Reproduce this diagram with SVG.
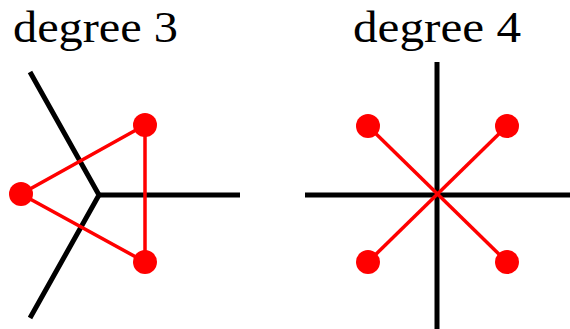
<svg xmlns="http://www.w3.org/2000/svg" width="570" height="329" viewBox="0 0 570 329">
<style>
.lbl{font-family:"Liberation Serif",serif;font-size:44px;fill:#000}
.blk{stroke:#000;stroke-width:5;fill:none}
.red{stroke:#f00;stroke-width:3.5;fill:none}
.dot{fill:#f00}
</style>
<rect width="570" height="329" fill="#fff"/>
<g id="label3"><text class="lbl" x="13" y="42" textLength="165" lengthAdjust="spacingAndGlyphs">degree 3</text></g>
<g id="label4"><text class="lbl" x="353" y="42" textLength="168" lengthAdjust="spacingAndGlyphs">degree 4</text></g>
<g id="connectors">
<polyline class="blk" points="30,72 99,195 30,318"/>
<line class="blk" x1="99" y1="195" x2="240" y2="195"/>
<polygon class="red" points="145,125 21,194 145,262"/>
<line class="blk" x1="437" y1="62" x2="437" y2="329"/>
<line class="blk" x1="305" y1="195" x2="570" y2="195"/>
<line class="red" x1="368" y1="126" x2="507" y2="262"/>
<line class="red" x1="507" y1="126" x2="368" y2="262"/>
</g>
<g id="n1"><circle class="dot" cx="145" cy="125" r="12"/></g>
<g id="n2"><circle class="dot" cx="21" cy="194" r="12"/></g>
<g id="n3"><circle class="dot" cx="145" cy="262" r="12"/></g>
<g id="n4"><circle class="dot" cx="368" cy="126" r="12"/></g>
<g id="n5"><circle class="dot" cx="507" cy="126" r="12"/></g>
<g id="n6"><circle class="dot" cx="368" cy="262" r="12"/></g>
<g id="n7"><circle class="dot" cx="507" cy="262" r="12"/></g>
</svg>
